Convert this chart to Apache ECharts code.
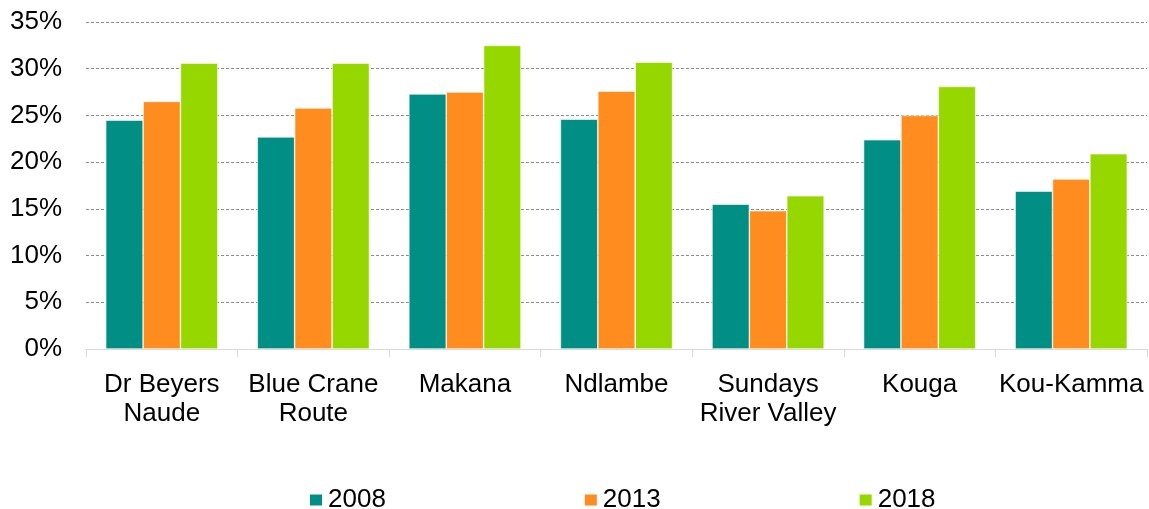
<!DOCTYPE html>
<html lang="en">
<head>
    <meta charset="UTF-8">
    <title>Chart</title>
    <script src="https://cdn.jsdelivr.net/npm/echarts@6/dist/echarts.min.js"></script>
    <style>
        html, body { margin: 0; padding: 0; background: #fff; }
        #chart { width: 1149px; height: 509px; }
    </style>
</head>
<body>
<div id="chart"></div>
<script>
    var categories = ['Dr Beyers\nNaude', 'Blue Crane\nRoute', 'Makana', 'Ndlambe', 'Sundays\nRiver Valley', 'Kouga', 'Kou-Kamma'];
    var years = ['2008', '2013', '2018'];
    var values2008 = [24.5, 22.7, 27.3, 24.6, 15.5, 22.4, 16.9];
    var values2013 = [26.5, 25.8, 27.5, 27.6, 14.8, 25.0, 18.2];
    var values2018 = [30.6, 30.6, 32.5, 30.7, 16.4, 28.1, 20.9];
    var colors = ['#008e85', '#ff8c1e', '#97d700'];

    var chart = echarts.init(document.getElementById('chart'));

    function bar(name, data, color) {
        return {
            name: name,
            type: 'bar',
            data: data,
            barGap: '0%',
            barCategoryGap: '26%',
            itemStyle: { color: color, borderColor: '#ffffff', borderWidth: 0.6 },
            animation: false
        };
    }

    var option = {
        textStyle: { fontFamily: '"Liberation Sans", Arial, sans-serif' },
        grid: { left: 86, right: 2, top: 22, bottom: 160 },
        legend: {
            left: 308,
            top: 487,
            padding: 0,
            itemWidth: 14,
            itemHeight: 13,
            itemGap: 197,
            icon: 'rect',
            textStyle: { fontSize: 26, color: '#000' },
            data: years
        },
        xAxis: {
            type: 'category',
            data: categories,
            axisLine: { lineStyle: { color: '#d9d9d9', width: 1 } },
            axisTick: { show: true, interval: 0, length: 8, lineStyle: { color: '#d9d9d9' } },
            axisLabel: { color: '#000', fontSize: 26, lineHeight: 29, margin: 21, interval: 0 }
        },
        yAxis: {
            type: 'value',
            min: 0,
            max: 35,
            interval: 5,
            axisLine: { show: false },
            axisTick: { show: false },
            axisLabel: { color: '#000', fontSize: 26, margin: 24, formatter: '{value}%' },
            splitLine: { lineStyle: { color: '#8c8c8c', type: [3, 2], width: 1 } }
        },
        series: [
            bar(years[0], values2008, colors[0]),
            bar(years[1], values2013, colors[1]),
            bar(years[2], values2018, colors[2])
        ]
    };

    chart.setOption(option);
</script>
</body>
</html>
